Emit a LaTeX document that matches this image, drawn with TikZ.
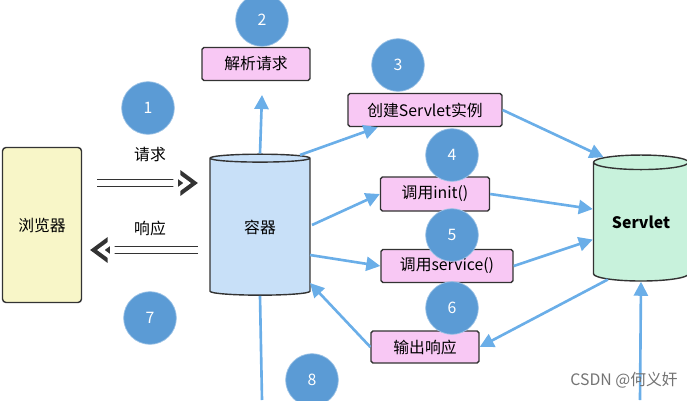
\documentclass[tikz,border=0pt]{standalone}
\usepackage{fontspec}
\setmainfont{Noto Sans CJK SC}
\usetikzlibrary{shapes.geometric,arrows.meta}
\definecolor{stepblue}{HTML}{5B9BD5}
\definecolor{linkblue}{HTML}{6AAEE8}
\definecolor{boxpink}{HTML}{F8C8F4}
\definecolor{pagebrow}{HTML}{F8F6C8}
\definecolor{contblue}{HTML}{C8E0F8}
\definecolor{servgreen}{HTML}{C8F2DC}
\tikzset{
  stepno/.style={circle,fill=stepblue,draw=stepblue!60,text=white,minimum size=30pt,inner sep=0pt,font=\small},
  act/.style={draw=black!80,thick,fill=boxpink,rounded corners=1pt,inner sep=0pt,font=\small},
  link/.style={linkblue,line width=1.5pt,-{Triangle[length=8pt,width=8pt]}},
  hollow/.style={draw=black!80,line width=5pt,-{Triangle[length=10pt,width=14pt,open]},postaction={draw=white,line width=3pt,shorten >=4pt}},
  store/.style={cylinder,shape border rotate=90,aspect=0.25,draw=black!80,thick,inner sep=0pt,font=\small}
}
\begin{document}
\begin{tikzpicture}[x=0.02cm,y=-0.02cm]
\useasboundingbox (0,0) rectangle (687,400);
% browser and container
\node[draw=black!80,thick,fill=pagebrow,rounded corners=2pt,minimum width=1.58cm,minimum height=3.1cm,font=\small] (browser) at (42,225) {浏览器};
\node[store,fill=contblue,minimum width=2cm,minimum height=2.82cm] (cont) at (260,227) {容器};
\node[store,fill=servgreen,minimum width=1.9cm,minimum height=2.52cm,font=\small\bfseries] (serv) at (641,222) {Servlet};
% action boxes
\node[act,minimum width=2.16cm,minimum height=0.66cm] (parse) at (256,64) {解析请求};
\node[act,minimum width=3.08cm,minimum height=0.66cm] (create) at (425,110) {创建Servlet实例};
\node[act,minimum width=2.18cm,minimum height=0.68cm] (init) at (435,194) {调用init()};
\node[act,minimum width=2.64cm,minimum height=0.66cm] (service) at (447,266) {调用service()};
\node[act,minimum width=2.16cm,minimum height=0.64cm] (output) at (425,347) {输出响应};
% steps
\node[stepno] (s1) at (148,108) {1};
\node[stepno] (s2) at (262,20) {2};
\node[stepno] (s3) at (398,65) {3};
\node[stepno] (s4) at (452,155) {4};
\node[stepno] (s5) at (452,235) {5};
\node[stepno] (s6) at (452,308) {6};
\node[stepno] (s7) at (150,318) {7};
\node[stepno] (s8) at (312,380) {8};
% request and response
\node[font=\small] (req) at (150,155) {请求};
\node[font=\small] (resp) at (150,228) {响应};
\coordinate (reqA) at (97,183);
\coordinate (reqB) at (198,183);
\coordinate (respA) at (198,250);
\coordinate (respB) at (90,250);
\draw[hollow] (reqA) -- (reqB);
\draw[hollow] (respA) -- (respB);
% connectors
\coordinate (bottomA) at (262,400);
\coordinate (bottomB) at (640,400);
\draw[linkblue,line width=1.5pt] (bottomA) -- (cont.bottom);
\draw[link] (cont.top) -- (262,95);
\draw[link] (300,155) -- (create.-160);
\draw[link] (create.east) -- (serv.120);
\draw[link] (312,225) -- (init.west);
\draw[link] (init.east) -- (serv.165);
\draw[link] (310,255) -- (service.west);
\draw[link] (service.east) -- (serv.200);
\draw[link] (serv.240) -- (output.east);
\draw[link] (output.west) -- (310,283);
\draw[link] (bottomB) -- (serv.bottom);
\node[text=black!55,font=\small,anchor=east] (mark) at (684,380) {CSDN @何义奸};
\end{tikzpicture}
\end{document}
